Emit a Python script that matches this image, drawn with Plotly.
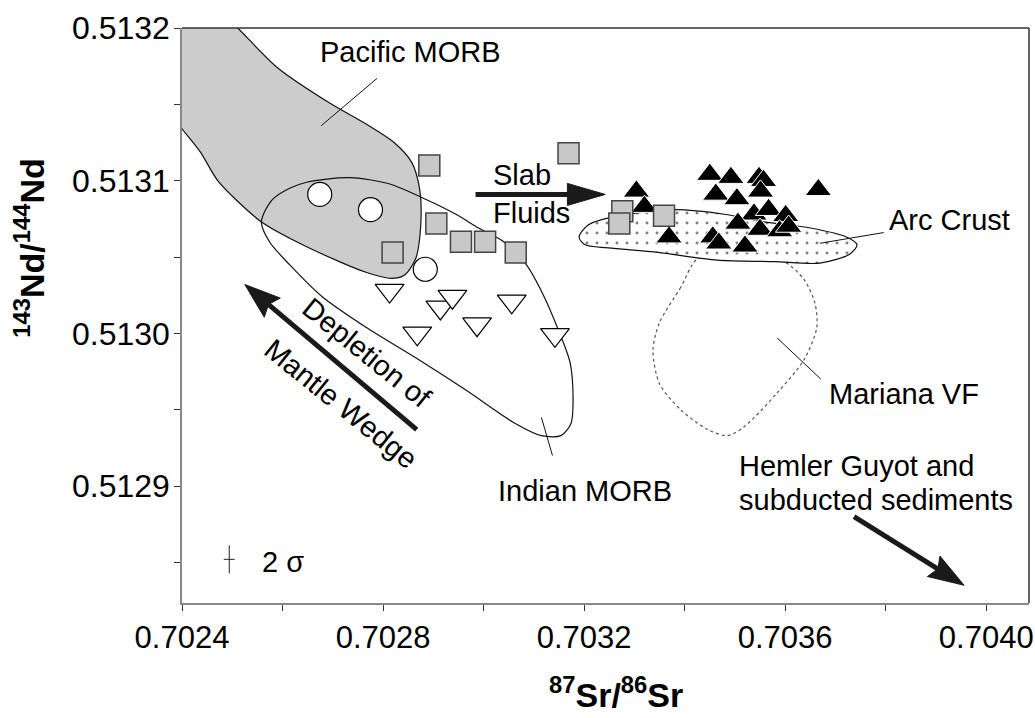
import math
import plotly.graph_objects as go

# ---------------- axis ranges / ticks ----------------
X_MIN, X_MAX = 0.7024, 0.7040851
Y_MIN, Y_MAX = 0.5128234, 0.5132

x_tickvals = [0.7024, 0.7028, 0.7032, 0.7036, 0.7040]
x_ticktext = ["0.7024", "0.7028", "0.7032", "0.7036", "0.7040"]
y_tickvals = [0.5129, 0.5130, 0.5131, 0.5132]
y_ticktext = ["0.5129", "0.5130", "0.5131", "0.5132"]
x_minor_step = 0.0002
y_minor_step = 0.00005

# ---------------- data points ----------------
circle_x = [0.702674, 0.702775, 0.702884]
circle_y = [0.513091, 0.513081, 0.513042]

square_x = [0.702892, 0.702906, 0.702819, 0.702955, 0.703003, 0.703064,
            0.703169, 0.703276, 0.703270, 0.703359]
square_y = [0.513110, 0.513072, 0.513053, 0.513060, 0.513060, 0.513053,
            0.513118, 0.513080, 0.513072, 0.513077]

tri_down_x = [0.702813, 0.702914, 0.702938, 0.702868, 0.702987, 0.703056, 0.703142]
tri_down_y = [0.513028, 0.513017, 0.513024, 0.513000, 0.513006, 0.513021, 0.512999]

tri_up_x = [0.703304, 0.703320, 0.703369, 0.703450, 0.703492, 0.703462, 0.703504,
            0.703548, 0.703557, 0.703551, 0.703538, 0.703567, 0.703601, 0.703506,
            0.703550, 0.703589, 0.703607, 0.703456, 0.703468, 0.703520, 0.703666]
tri_up_y = [0.513093, 0.513083, 0.513063, 0.513104, 0.513102, 0.513091, 0.513088,
            0.513102, 0.513100, 0.513093, 0.513078, 0.513081, 0.513077, 0.513072,
            0.513068, 0.513067, 0.513070, 0.513063, 0.513059, 0.513057, 0.513094]

# ---------------- field outlines ----------------
pacific_x = [0.702337, 0.702455, 0.702511, 0.702590, 0.702693, 0.702772, 0.702822,
             0.702857, 0.702873, 0.702875, 0.702865, 0.702842, 0.702816, 0.702766,
             0.702713, 0.702634, 0.702558, 0.702509, 0.702471, 0.702436, 0.702400,
             0.702356, 0.702337]
pacific_y = [0.513218, 0.513218, 0.513200, 0.513174, 0.513151, 0.513136, 0.513125,
             0.513112, 0.513094, 0.513071, 0.513049, 0.513038, 0.513036, 0.513040,
             0.513047, 0.513059, 0.513073, 0.513087, 0.513100, 0.513119, 0.513134,
             0.513153, 0.513218]

indian_x = [0.702558, 0.702578, 0.702614, 0.702648, 0.702733, 0.702812, 0.702877,
            0.702945, 0.702990, 0.703040, 0.703085, 0.703119, 0.703149, 0.703172,
            0.703178, 0.703174, 0.703154, 0.703115, 0.703063, 0.702964, 0.702865,
            0.702766, 0.702679, 0.702614, 0.702574, 0.702558]
indian_y = [0.513073, 0.513087, 0.513095, 0.513099, 0.513102, 0.513098, 0.513089,
            0.513078, 0.513069, 0.513060, 0.513045, 0.513025, 0.513002, 0.512981,
            0.512958, 0.512941, 0.512933, 0.512933, 0.512941, 0.512963, 0.512984,
            0.513004, 0.513024, 0.513045, 0.513060, 0.513073]

arc_x = [0.703190, 0.703208, 0.703253, 0.703380, 0.703479, 0.703558, 0.703650,
         0.703723, 0.703743, 0.703729, 0.703669, 0.703578, 0.703465, 0.703347,
         0.703248, 0.703202, 0.703190]
arc_y = [0.513063, 0.513071, 0.513076, 0.513081, 0.513078, 0.513073, 0.513069,
         0.513063, 0.513058, 0.513052, 0.513046, 0.513047, 0.513048, 0.513053,
         0.513056, 0.513058, 0.513063]

mariana_x = [0.703426, 0.703392, 0.703350, 0.703337, 0.703350, 0.703392, 0.703446,
             0.703485, 0.703519, 0.703584, 0.703638, 0.703663, 0.703659, 0.703638,
             0.703598, 0.703505, 0.703426]
mariana_y = [0.513049, 0.513030, 0.513007, 0.512989, 0.512967, 0.512950, 0.512937,
             0.512933, 0.512939, 0.512961, 0.512983, 0.513004, 0.513020, 0.513035,
             0.513047, 0.513053, 0.513049]

# 2 sigma error bar
sigma_x = [0.702494]
sigma_y = [0.512852]
sigma_ex = [0.0000109]
sigma_ey = [0.0000092]

FONT = "Liberation Sans, Arial, Helvetica, sans-serif"
PX_X = 851 / (X_MAX - X_MIN)
PX_Y = 575 / (Y_MAX - Y_MIN)

fig = go.Figure()

fig.add_trace(go.Scatter(x=pacific_x, y=pacific_y, mode="lines", fill="toself",
                         fillcolor="#cccccc", line=dict(color="#111", width=1.2, shape="spline", smoothing=0.8),
                         hoverinfo="skip"))
fig.add_trace(go.Scatter(x=mariana_x, y=mariana_y, mode="lines",
                         line=dict(color="#555", width=1.2, dash="dot", shape="spline", smoothing=0.8),
                         hoverinfo="skip"))
fig.add_trace(go.Scatter(x=arc_x, y=arc_y, mode="lines", fill="toself", fillcolor="white",
                         fillpattern=dict(shape=".", fgcolor="black", bgcolor="white", size=10, solidity=0.07),
                         line=dict(color="#111", width=1.2, shape="spline", smoothing=0.8),
                         hoverinfo="skip"))
fig.add_trace(go.Scatter(x=indian_x, y=indian_y, mode="lines",
                         line=dict(color="#111", width=1.2, shape="spline", smoothing=0.8),
                         hoverinfo="skip"))

fig.add_trace(go.Scatter(x=tri_up_x, y=tri_up_y, mode="markers",
                         marker=dict(symbol="triangle-up", size=23, color="black",
                                     line=dict(color="white", width=1))))
fig.add_trace(go.Scatter(x=tri_down_x, y=tri_down_y, mode="markers",
                         marker=dict(symbol="triangle-down", size=25, color="white",
                                     line=dict(color="black", width=1.2))))
fig.add_trace(go.Scatter(x=circle_x, y=circle_y, mode="markers",
                         marker=dict(symbol="circle", size=24, color="white",
                                     line=dict(color="black", width=1.2))))
fig.add_trace(go.Scatter(x=square_x, y=square_y, mode="markers",
                         marker=dict(symbol="square", size=21, color="#c8c8c8",
                                     line=dict(color="#444", width=1.5))))
fig.add_trace(go.Scatter(x=sigma_x, y=sigma_y, mode="markers",
                         marker=dict(size=1, color="rgba(0,0,0,0)"),
                         error_x=dict(type="data", array=sigma_ex, width=0, thickness=1, color="#222"),
                         error_y=dict(type="data", array=sigma_ey, width=0, thickness=1, color="#222")))

shapes = []
# frame: top and right
shapes.append(dict(type="line", xref="paper", yref="paper", x0=0, x1=1, y0=1, y1=1,
                   line=dict(color="#333", width=1.5)))
shapes.append(dict(type="line", xref="paper", yref="paper", x0=1, x1=1, y0=0, y1=1,
                   line=dict(color="#333", width=1.5)))

# leader lines
leaders = [((0.702788, 0.513167), (0.702677, 0.513136)),
           ((0.703669, 0.513059), (0.703796, 0.513066)),
           ((0.703584, 0.512997), (0.703671, 0.512970)),
           ((0.703115, 0.512945), (0.703137, 0.512920))]
for (a, b) in leaders:
    shapes.append(dict(type="line", xref="x", yref="y", x0=a[0], y0=a[1], x1=b[0], y1=b[1],
                       line=dict(color="#111", width=1)))


def arrow(x0, y0, x1, y1, head_len, head_hw, width, notch=0):
    dx = (x1 - x0) * PX_X
    dy = (y1 - y0) * PX_Y
    L = math.hypot(dx, dy)
    ux, uy = dx / L, dy / L
    bx = x1 - ux * head_len / PX_X
    by = y1 - uy * head_len / PX_Y
    nx, ny = -uy, ux
    c1 = (bx + nx * head_hw / PX_X, by + ny * head_hw / PX_Y)
    c2 = (bx - nx * head_hw / PX_X, by - ny * head_hw / PX_Y)
    nb = (bx + ux * notch / PX_X, by + uy * notch / PX_Y)
    lb = (bx + ux * (notch + 4) / PX_X, by + uy * (notch + 4) / PX_Y)
    out = [dict(type="line", xref="x", yref="y", x0=x0, y0=y0, x1=lb[0], y1=lb[1],
                line=dict(color="#1a1a1a", width=width))]
    path = "M {},{} L {},{} L {},{} L {},{} Z".format(x1, y1, c1[0], c1[1], nb[0], nb[1], c2[0], c2[1])
    out.append(dict(type="path", xref="x", yref="y", path=path,
                    fillcolor="#1a1a1a", line=dict(color="#1a1a1a", width=1)))
    return out


shapes += arrow(0.702984, 0.513091, 0.703242, 0.513091, 38, 11, 5)
shapes += arrow(0.702867, 0.512937, 0.702525, 0.513032, 36, 12.5, 5, notch=5)
shapes += arrow(0.703737, 0.512880, 0.703956, 0.512835, 36, 12, 5, notch=5)

ann = []


def txt(x, y, s, xanchor="left", angle=0, size=29):
    ann.append(dict(x=x, y=y, xref="x", yref="y", text=s, showarrow=False,
                    xanchor=xanchor, yanchor="middle", textangle=angle,
                    font=dict(family=FONT, size=size, color="black")))


txt(0.702671, 0.513184, "Pacific MORB")
txt(0.703014, 0.513104, "Slab")
txt(0.703014, 0.513079, "Fluids")
txt(0.703802, 0.513074, "Arc Crust")
txt(0.703683, 0.512960, "Mariana VF")
txt(0.703024, 0.512897, "Indian MORB")
txt(0.703505, 0.512913, "Hemler Guyot and")
txt(0.703505, 0.512891, "subducted sediments")
txt(0.702768, 0.512987, "Depletion of", xanchor="center", angle=39)
txt(0.702717, 0.512954, "Mantle Wedge", xanchor="center", angle=39)
txt(0.702556, 0.512850, "2 σ")

# axis titles
ann.append(dict(x=(618 - 182) / 851, y=(603 - 692) / 575, xref="paper", yref="paper",
                text="<b><sup>87</sup>Sr/<sup>86</sup>Sr</b>", showarrow=False,
                xanchor="center", yanchor="middle",
                font=dict(family=FONT, size=34, color="black")))
ann.append(dict(x=(28 - 182) / 851, y=(603 - 248) / 575, xref="paper", yref="paper",
                text="<b><sup>143</sup>Nd/<sup>144</sup>Nd</b>", showarrow=False,
                xanchor="center", yanchor="middle", textangle=-90,
                font=dict(family=FONT, size=34, color="black")))

fig.update_layout(
    width=1035, height=718,
    margin=dict(l=182, r=2, t=28, b=115),
    paper_bgcolor="white", plot_bgcolor="white",
    showlegend=False,
    shapes=shapes, annotations=ann,
    xaxis=dict(range=[X_MIN, X_MAX], tickmode="array", tickvals=x_tickvals, ticktext=x_ticktext,
               ticks="outside", ticklen=6, tickcolor="#333", tickwidth=1.2,
               minor=dict(tick0=X_MIN, dtick=x_minor_step, ticks="outside", ticklen=6,
                          tickcolor="#333", tickwidth=1.2, showgrid=False),
               showline=True, linecolor="#888", linewidth=1.5,
               showgrid=False, zeroline=False, ticklabeloverflow="allow",
               tickfont=dict(family=FONT, size=31, color="black")),
    yaxis=dict(range=[Y_MIN, Y_MAX], tickmode="array", tickvals=y_tickvals, ticktext=y_ticktext,
               ticks="outside", ticklen=6, tickcolor="#333", tickwidth=1.2,
               minor=dict(tick0=0.5129, dtick=y_minor_step, ticks="outside", ticklen=6,
                          tickcolor="#333", tickwidth=1.2, showgrid=False),
               showline=True, linecolor="#888", linewidth=1.5,
               showgrid=False, zeroline=False, ticklabelstandoff=-2,
               tickfont=dict(family=FONT, size=32, color="black")),
)

fig.write_html("out.html", config={"displayModeBar": False},
               post_script="document.body.style.margin='0px';document.body.style.padding='0px';")
